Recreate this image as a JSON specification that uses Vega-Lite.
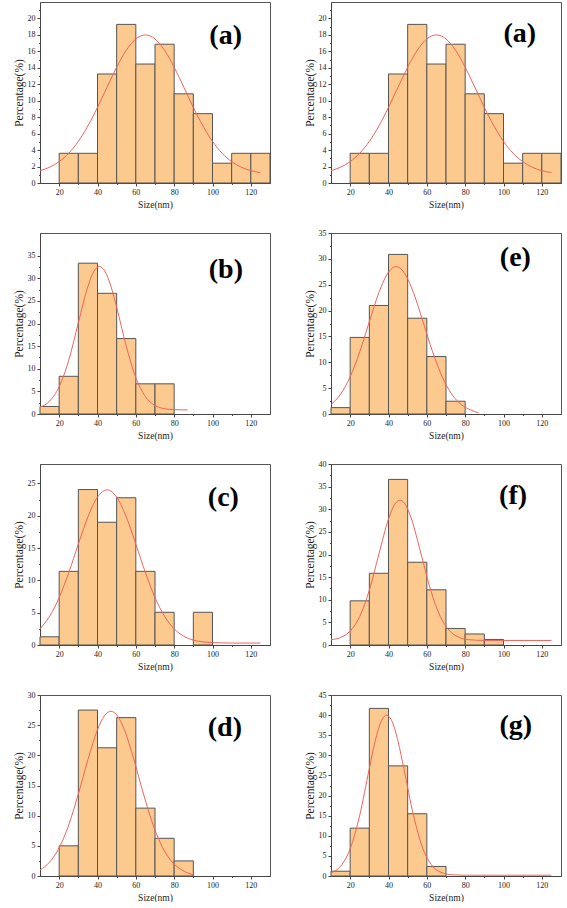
{
  "$schema": "https://vega.github.io/schema/vega-lite/v6.json",
  "background": "white",
  "padding": {"left": 12, "top": 1, "right": 0, "bottom": 0},
  "datasets": {
    "bars_a": [
      {"start": 20, "end": 30, "pct": 3.61}, {"start": 30, "end": 40, "pct": 3.61},
      {"start": 40, "end": 50, "pct": 13.25}, {"start": 50, "end": 60, "pct": 19.28},
      {"start": 60, "end": 70, "pct": 14.46}, {"start": 70, "end": 80, "pct": 16.87},
      {"start": 80, "end": 90, "pct": 10.84}, {"start": 90, "end": 100, "pct": 8.43},
      {"start": 100, "end": 110, "pct": 2.41}, {"start": 110, "end": 120, "pct": 3.61},
      {"start": 120, "end": 130, "pct": 3.61}
    ],
    "curve_a": [
      {"x": 10, "y": 1.5}, {"x": 15, "y": 1.92}, {"x": 20, "y": 2.6}, {"x": 25, "y": 3.62},
      {"x": 30, "y": 5.06}, {"x": 35, "y": 6.94}, {"x": 40, "y": 9.19}, {"x": 45, "y": 11.66},
      {"x": 50, "y": 14.07}, {"x": 55, "y": 16.13}, {"x": 60, "y": 17.51}, {"x": 65, "y": 18.0},
      {"x": 70, "y": 17.51}, {"x": 75, "y": 16.13}, {"x": 80, "y": 14.07}, {"x": 85, "y": 11.66},
      {"x": 90, "y": 9.19}, {"x": 95, "y": 6.94}, {"x": 100, "y": 5.06}, {"x": 105, "y": 3.62},
      {"x": 110, "y": 2.6}, {"x": 115, "y": 1.92}, {"x": 120, "y": 1.5}, {"x": 125, "y": 1.26}
    ],
    "bars_b": [
      {"start": 10, "end": 20, "pct": 1.67}, {"start": 20, "end": 30, "pct": 8.33},
      {"start": 30, "end": 40, "pct": 33.33}, {"start": 40, "end": 50, "pct": 26.67},
      {"start": 50, "end": 60, "pct": 16.67}, {"start": 60, "end": 70, "pct": 6.67},
      {"start": 70, "end": 80, "pct": 6.67}
    ],
    "curve_b": [
      {"x": 10, "y": 1.5}, {"x": 15, "y": 2.84}, {"x": 20, "y": 6.03}, {"x": 25, "y": 11.9},
      {"x": 30, "y": 20.13}, {"x": 35, "y": 28.22}, {"x": 38, "y": 31.44}, {"x": 41, "y": 32.6},
      {"x": 44, "y": 31.44}, {"x": 47, "y": 28.22}, {"x": 50, "y": 23.59}, {"x": 55, "y": 15.0},
      {"x": 60, "y": 8.03}, {"x": 65, "y": 3.84}, {"x": 70, "y": 1.88}, {"x": 75, "y": 1.17},
      {"x": 80, "y": 0.96}, {"x": 87, "y": 0.9}
    ],
    "bars_c": [
      {"start": 10, "end": 20, "pct": 1.27}, {"start": 20, "end": 30, "pct": 11.39},
      {"start": 30, "end": 40, "pct": 24.05}, {"start": 40, "end": 50, "pct": 18.99},
      {"start": 50, "end": 60, "pct": 22.78}, {"start": 60, "end": 70, "pct": 11.39},
      {"start": 70, "end": 80, "pct": 5.06}, {"start": 90, "end": 100, "pct": 5.06}
    ],
    "curve_c": [
      {"x": 10, "y": 2.5}, {"x": 15, "y": 4.43}, {"x": 20, "y": 7.34}, {"x": 25, "y": 11.2},
      {"x": 30, "y": 15.61}, {"x": 35, "y": 19.82}, {"x": 40, "y": 22.88}, {"x": 45, "y": 24.0},
      {"x": 50, "y": 22.88}, {"x": 55, "y": 19.82}, {"x": 60, "y": 15.61}, {"x": 65, "y": 11.2},
      {"x": 70, "y": 7.34}, {"x": 75, "y": 4.43}, {"x": 80, "y": 2.5}, {"x": 85, "y": 1.36},
      {"x": 90, "y": 0.76}, {"x": 95, "y": 0.49}, {"x": 100, "y": 0.37}, {"x": 110, "y": 0.3},
      {"x": 125, "y": 0.3}
    ],
    "bars_d": [
      {"start": 20, "end": 30, "pct": 5.0}, {"start": 30, "end": 40, "pct": 27.5},
      {"start": 40, "end": 50, "pct": 21.25}, {"start": 50, "end": 60, "pct": 26.25},
      {"start": 60, "end": 70, "pct": 11.25}, {"start": 70, "end": 80, "pct": 6.25},
      {"start": 80, "end": 90, "pct": 2.5}
    ],
    "curve_d": [
      {"x": 10, "y": 1.0}, {"x": 15, "y": 2.3}, {"x": 20, "y": 4.69}, {"x": 25, "y": 8.48},
      {"x": 30, "y": 13.58}, {"x": 35, "y": 19.28}, {"x": 40, "y": 24.25}, {"x": 43.5, "y": 26.5},
      {"x": 47, "y": 27.3}, {"x": 50.5, "y": 26.5}, {"x": 54, "y": 24.25}, {"x": 59, "y": 19.28},
      {"x": 64, "y": 13.58}, {"x": 69, "y": 8.48}, {"x": 74, "y": 4.69}, {"x": 79, "y": 2.3},
      {"x": 84, "y": 1.0}, {"x": 90, "y": 0.2}
    ],
    "bars_e": [
      {"start": 10, "end": 20, "pct": 1.23}, {"start": 20, "end": 30, "pct": 14.81},
      {"start": 30, "end": 40, "pct": 20.99}, {"start": 40, "end": 50, "pct": 30.86},
      {"start": 50, "end": 60, "pct": 18.52}, {"start": 60, "end": 70, "pct": 11.11},
      {"start": 70, "end": 80, "pct": 2.47}
    ],
    "curve_e": [
      {"x": 10, "y": 1.81}, {"x": 15, "y": 3.83}, {"x": 20, "y": 7.21}, {"x": 25, "y": 12.04},
      {"x": 30, "y": 17.85}, {"x": 35, "y": 23.49}, {"x": 40, "y": 27.43}, {"x": 44, "y": 28.5},
      {"x": 48, "y": 27.43}, {"x": 53, "y": 23.49}, {"x": 58, "y": 17.85}, {"x": 63, "y": 12.04},
      {"x": 68, "y": 7.21}, {"x": 73, "y": 3.83}, {"x": 78, "y": 1.81}, {"x": 83, "y": 0.76},
      {"x": 87, "y": 0.2}
    ],
    "bars_f": [
      {"start": 20, "end": 30, "pct": 9.76}, {"start": 30, "end": 40, "pct": 15.85},
      {"start": 40, "end": 50, "pct": 36.59}, {"start": 50, "end": 60, "pct": 18.29},
      {"start": 60, "end": 70, "pct": 12.2}, {"start": 70, "end": 80, "pct": 3.66},
      {"start": 80, "end": 90, "pct": 2.44}, {"start": 90, "end": 100, "pct": 1.22}
    ],
    "curve_f": [
      {"x": 10, "y": 1.17}, {"x": 15, "y": 1.66}, {"x": 20, "y": 3.08}, {"x": 25, "y": 6.31},
      {"x": 30, "y": 12.13}, {"x": 35, "y": 20.1}, {"x": 40, "y": 27.84}, {"x": 43, "y": 30.9},
      {"x": 46, "y": 32.0}, {"x": 49, "y": 30.9}, {"x": 52, "y": 27.84}, {"x": 57, "y": 20.1},
      {"x": 62, "y": 12.13}, {"x": 67, "y": 6.31}, {"x": 72, "y": 3.08}, {"x": 77, "y": 1.66},
      {"x": 82, "y": 1.17}, {"x": 90, "y": 1.01}, {"x": 100, "y": 1.0}, {"x": 125, "y": 1.0}
    ],
    "bars_g": [
      {"start": 10, "end": 20, "pct": 1.19}, {"start": 20, "end": 30, "pct": 11.9},
      {"start": 30, "end": 40, "pct": 41.67}, {"start": 40, "end": 50, "pct": 27.38},
      {"start": 50, "end": 60, "pct": 15.48}, {"start": 60, "end": 70, "pct": 2.38}
    ],
    "curve_g": [
      {"x": 10, "y": 0.8}, {"x": 15, "y": 2.43}, {"x": 20, "y": 6.75}, {"x": 25, "y": 15.14},
      {"x": 30, "y": 26.75}, {"x": 33, "y": 33.44}, {"x": 36, "y": 38.25}, {"x": 39, "y": 40.0},
      {"x": 42, "y": 38.25}, {"x": 45, "y": 33.44}, {"x": 48, "y": 26.75}, {"x": 53, "y": 15.14},
      {"x": 58, "y": 6.75}, {"x": 63, "y": 2.43}, {"x": 68, "y": 0.8}, {"x": 73, "y": 0.32},
      {"x": 80, "y": 0.2}, {"x": 125, "y": 0.2}
    ]
  },
  "columns": 2,
  "spacing": {"row": 19, "column": 32},
  "concat": [
    {
      "width": 230, "height": 181,
      "layer": [
        {"data": {"name": "bars_a"}, "mark": {"type": "bar", "fill": "#FCC98F", "stroke": "#555", "strokeWidth": 1},
         "encoding": {
           "x": {"field": "start", "type": "quantitative", "scale": {"domain": [10, 130]}, "axis": {"title": "Size(nm)", "format": "d", "tickCount": 100, "values": [20, 30, 40, 50, 60, 70, 80, 90, 100, 110, 120], "labelExpr": "datum.value % 20 === 0 ? datum.label : ''", "tickSize": {"condition": {"test": "datum.value % 20 === 0", "value": 3}, "value": 1.5}}},
           "x2": {"field": "end"},
           "y": {"field": "pct", "type": "quantitative", "scale": {"domain": [0, 21]}, "axis": {"title": "Percentage(%)", "format": "d", "tickCount": 100, "values": [0, 1, 2, 3, 4, 5, 6, 7, 8, 9, 10, 11, 12, 13, 14, 15, 16, 17, 18, 19, 20, 21], "labelExpr": "datum.value % 2 === 0 ? datum.label : ''", "tickSize": {"condition": {"test": "datum.value % 2 === 0", "value": 3}, "value": 1.5}}},
           "y2": {"datum": 0}
         }},
        {"data": {"name": "curve_a"}, "mark": {"type": "line", "color": "#F0645A", "strokeWidth": 1, "interpolate": "monotone"},
         "encoding": {"x": {"field": "x", "type": "quantitative"}, "y": {"field": "y", "type": "quantitative"}}},
        {"data": {"values": [{}]}, "mark": {"type": "text", "font": "Liberation Serif", "fontSize": 28, "fontWeight": "bold", "color": "black", "align": "right", "baseline": "middle"},
         "encoding": {"text": {"datum": "(a)"}, "x": {"datum": 115.4}, "y": {"datum": 17.86}}}
      ]
    },
    {
      "width": 230, "height": 181,
      "layer": [
        {"data": {"name": "bars_a"}, "mark": {"type": "bar", "fill": "#FCC98F", "stroke": "#555", "strokeWidth": 1},
         "encoding": {
           "x": {"field": "start", "type": "quantitative", "scale": {"domain": [10, 130]}, "axis": {"title": "Size(nm)", "format": "d", "tickCount": 100, "values": [20, 30, 40, 50, 60, 70, 80, 90, 100, 110, 120], "labelExpr": "datum.value % 20 === 0 ? datum.label : ''", "tickSize": {"condition": {"test": "datum.value % 20 === 0", "value": 3}, "value": 1.5}}},
           "x2": {"field": "end"},
           "y": {"field": "pct", "type": "quantitative", "scale": {"domain": [0, 21]}, "axis": {"title": "Percentage(%)", "format": "d", "tickCount": 100, "values": [0, 1, 2, 3, 4, 5, 6, 7, 8, 9, 10, 11, 12, 13, 14, 15, 16, 17, 18, 19, 20, 21], "labelExpr": "datum.value % 2 === 0 ? datum.label : ''", "tickSize": {"condition": {"test": "datum.value % 2 === 0", "value": 3}, "value": 1.5}}},
           "y2": {"datum": 0}
         }},
        {"data": {"name": "curve_a"}, "mark": {"type": "line", "color": "#F0645A", "strokeWidth": 1, "interpolate": "monotone"},
         "encoding": {"x": {"field": "x", "type": "quantitative"}, "y": {"field": "y", "type": "quantitative"}}},
        {"data": {"values": [{}]}, "mark": {"type": "text", "font": "Liberation Serif", "fontSize": 28, "fontWeight": "bold", "color": "black", "align": "right", "baseline": "middle"},
         "encoding": {"text": {"datum": "(a)"}, "x": {"datum": 117}, "y": {"datum": 18.13}}}
      ]
    },
    {
      "width": 230, "height": 181,
      "layer": [
        {"data": {"name": "bars_b"}, "mark": {"type": "bar", "fill": "#FCC98F", "stroke": "#555", "strokeWidth": 1},
         "encoding": {
           "x": {"field": "start", "type": "quantitative", "scale": {"domain": [10, 130]}, "axis": {"title": "Size(nm)", "format": "d", "tickCount": 100, "values": [20, 30, 40, 50, 60, 70, 80, 90, 100, 110, 120], "labelExpr": "datum.value % 20 === 0 ? datum.label : ''", "tickSize": {"condition": {"test": "datum.value % 20 === 0", "value": 3}, "value": 1.5}}},
           "x2": {"field": "end"},
           "y": {"field": "pct", "type": "quantitative", "scale": {"domain": [0, 37.4]}, "axis": {"title": "Percentage(%)", "format": "d", "tickCount": 100, "values": [0, 2.5, 5, 7.5, 10, 12.5, 15, 17.5, 20, 22.5, 25, 27.5, 30, 32.5, 35], "labelExpr": "datum.value % 5 === 0 ? datum.label : ''", "tickSize": {"condition": {"test": "datum.value % 5 === 0", "value": 3}, "value": 1.5}}},
           "y2": {"datum": 0}
         }},
        {"data": {"name": "curve_b"}, "mark": {"type": "line", "color": "#F0645A", "strokeWidth": 1, "interpolate": "monotone"},
         "encoding": {"x": {"field": "x", "type": "quantitative"}, "y": {"field": "y", "type": "quantitative"}}},
        {"data": {"values": [{}]}, "mark": {"type": "text", "font": "Liberation Serif", "fontSize": 28, "fontWeight": "bold", "color": "black", "align": "right", "baseline": "middle"},
         "encoding": {"text": {"datum": "(b)"}, "x": {"datum": 115.9}, "y": {"datum": 31.73}}}
      ]
    },
    {
      "width": 230, "height": 181,
      "layer": [
        {"data": {"name": "bars_e"}, "mark": {"type": "bar", "fill": "#FCC98F", "stroke": "#555", "strokeWidth": 1},
         "encoding": {
           "x": {"field": "start", "type": "quantitative", "scale": {"domain": [10, 130]}, "axis": {"title": "Size(nm)", "format": "d", "tickCount": 100, "values": [20, 30, 40, 50, 60, 70, 80, 90, 100, 110, 120], "labelExpr": "datum.value % 20 === 0 ? datum.label : ''", "tickSize": {"condition": {"test": "datum.value % 20 === 0", "value": 3}, "value": 1.5}}},
           "x2": {"field": "end"},
           "y": {"field": "pct", "type": "quantitative", "scale": {"domain": [0, 35]}, "axis": {"title": "Percentage(%)", "format": "d", "tickCount": 100, "values": [0, 2.5, 5, 7.5, 10, 12.5, 15, 17.5, 20, 22.5, 25, 27.5, 30, 32.5, 35], "labelExpr": "datum.value % 5 === 0 ? datum.label : ''", "tickSize": {"condition": {"test": "datum.value % 5 === 0", "value": 3}, "value": 1.5}}},
           "y2": {"datum": 0}
         }},
        {"data": {"name": "curve_e"}, "mark": {"type": "line", "color": "#F0645A", "strokeWidth": 1, "interpolate": "monotone"},
         "encoding": {"x": {"field": "x", "type": "quantitative"}, "y": {"field": "y", "type": "quantitative"}}},
        {"data": {"values": [{}]}, "mark": {"type": "text", "font": "Liberation Serif", "fontSize": 28, "fontWeight": "bold", "color": "black", "align": "right", "baseline": "middle"},
         "encoding": {"text": {"datum": "(e)"}, "x": {"datum": 114.3}, "y": {"datum": 30.07}}}
      ]
    },
    {
      "width": 230, "height": 181,
      "layer": [
        {"data": {"name": "bars_c"}, "mark": {"type": "bar", "fill": "#FCC98F", "stroke": "#555", "strokeWidth": 1},
         "encoding": {
           "x": {"field": "start", "type": "quantitative", "scale": {"domain": [10, 130]}, "axis": {"title": "Size(nm)", "format": "d", "tickCount": 100, "values": [20, 30, 40, 50, 60, 70, 80, 90, 100, 110, 120], "labelExpr": "datum.value % 20 === 0 ? datum.label : ''", "tickSize": {"condition": {"test": "datum.value % 20 === 0", "value": 3}, "value": 1.5}}},
           "x2": {"field": "end"},
           "y": {"field": "pct", "type": "quantitative", "scale": {"domain": [0, 27.3]}, "axis": {"title": "Percentage(%)", "format": "d", "tickCount": 100, "values": [0, 2.5, 5, 7.5, 10, 12.5, 15, 17.5, 20, 22.5, 25], "labelExpr": "datum.value % 5 === 0 ? datum.label : ''", "tickSize": {"condition": {"test": "datum.value % 5 === 0", "value": 3}, "value": 1.5}}},
           "y2": {"datum": 0}
         }},
        {"data": {"name": "curve_c"}, "mark": {"type": "line", "color": "#F0645A", "strokeWidth": 1, "interpolate": "monotone"},
         "encoding": {"x": {"field": "x", "type": "quantitative"}, "y": {"field": "y", "type": "quantitative"}}},
        {"data": {"values": [{}]}, "mark": {"type": "text", "font": "Liberation Serif", "fontSize": 28, "fontWeight": "bold", "color": "black", "align": "right", "baseline": "middle"},
         "encoding": {"text": {"datum": "(c)"}, "x": {"datum": 113.8}, "y": {"datum": 22.7}}}
      ]
    },
    {
      "width": 230, "height": 181,
      "layer": [
        {"data": {"name": "bars_f"}, "mark": {"type": "bar", "fill": "#FCC98F", "stroke": "#555", "strokeWidth": 1},
         "encoding": {
           "x": {"field": "start", "type": "quantitative", "scale": {"domain": [10, 130]}, "axis": {"title": "Size(nm)", "format": "d", "tickCount": 100, "values": [20, 30, 40, 50, 60, 70, 80, 90, 100, 110, 120], "labelExpr": "datum.value % 20 === 0 ? datum.label : ''", "tickSize": {"condition": {"test": "datum.value % 20 === 0", "value": 3}, "value": 1.5}}},
           "x2": {"field": "end"},
           "y": {"field": "pct", "type": "quantitative", "scale": {"domain": [0, 40]}, "axis": {"title": "Percentage(%)", "format": "d", "tickCount": 100, "values": [0, 2.5, 5, 7.5, 10, 12.5, 15, 17.5, 20, 22.5, 25, 27.5, 30, 32.5, 35, 37.5, 40], "labelExpr": "datum.value % 5 === 0 ? datum.label : ''", "tickSize": {"condition": {"test": "datum.value % 5 === 0", "value": 3}, "value": 1.5}}},
           "y2": {"datum": 0}
         }},
        {"data": {"name": "curve_f"}, "mark": {"type": "line", "color": "#F0645A", "strokeWidth": 1, "interpolate": "monotone"},
         "encoding": {"x": {"field": "x", "type": "quantitative"}, "y": {"field": "y", "type": "quantitative"}}},
        {"data": {"values": [{}]}, "mark": {"type": "text", "font": "Liberation Serif", "fontSize": 28, "fontWeight": "bold", "color": "black", "align": "right", "baseline": "middle"},
         "encoding": {"text": {"datum": "(f)"}, "x": {"datum": 112.3}, "y": {"datum": 33.03}}}
      ]
    },
    {
      "width": 230, "height": 181,
      "layer": [
        {"data": {"name": "bars_d"}, "mark": {"type": "bar", "fill": "#FCC98F", "stroke": "#555", "strokeWidth": 1},
         "encoding": {
           "x": {"field": "start", "type": "quantitative", "scale": {"domain": [10, 130]}, "axis": {"title": "Size(nm)", "format": "d", "tickCount": 100, "values": [20, 30, 40, 50, 60, 70, 80, 90, 100, 110, 120], "labelExpr": "datum.value % 20 === 0 ? datum.label : ''", "tickSize": {"condition": {"test": "datum.value % 20 === 0", "value": 3}, "value": 1.5}}},
           "x2": {"field": "end"},
           "y": {"field": "pct", "type": "quantitative", "scale": {"domain": [0, 30]}, "axis": {"title": "Percentage(%)", "format": "d", "tickCount": 100, "values": [0, 2.5, 5, 7.5, 10, 12.5, 15, 17.5, 20, 22.5, 25, 27.5, 30], "labelExpr": "datum.value % 5 === 0 ? datum.label : ''", "tickSize": {"condition": {"test": "datum.value % 5 === 0", "value": 3}, "value": 1.5}}},
           "y2": {"datum": 0}
         }},
        {"data": {"name": "curve_d"}, "mark": {"type": "line", "color": "#F0645A", "strokeWidth": 1, "interpolate": "monotone"},
         "encoding": {"x": {"field": "x", "type": "quantitative"}, "y": {"field": "y", "type": "quantitative"}}},
        {"data": {"values": [{}]}, "mark": {"type": "text", "font": "Liberation Serif", "fontSize": 28, "fontWeight": "bold", "color": "black", "align": "right", "baseline": "middle"},
         "encoding": {"text": {"datum": "(d)"}, "x": {"datum": 115.4}, "y": {"datum": 24.61}}}
      ]
    },
    {
      "width": 230, "height": 181,
      "layer": [
        {"data": {"name": "bars_g"}, "mark": {"type": "bar", "fill": "#FCC98F", "stroke": "#555", "strokeWidth": 1},
         "encoding": {
           "x": {"field": "start", "type": "quantitative", "scale": {"domain": [10, 130]}, "axis": {"title": "Size(nm)", "format": "d", "tickCount": 100, "values": [20, 30, 40, 50, 60, 70, 80, 90, 100, 110, 120], "labelExpr": "datum.value % 20 === 0 ? datum.label : ''", "tickSize": {"condition": {"test": "datum.value % 20 === 0", "value": 3}, "value": 1.5}}},
           "x2": {"field": "end"},
           "y": {"field": "pct", "type": "quantitative", "scale": {"domain": [0, 45]}, "axis": {"title": "Percentage(%)", "format": "d", "tickCount": 100, "values": [0, 2.5, 5, 7.5, 10, 12.5, 15, 17.5, 20, 22.5, 25, 27.5, 30, 32.5, 35, 37.5, 40, 42.5, 45], "labelExpr": "datum.value % 5 === 0 ? datum.label : ''", "tickSize": {"condition": {"test": "datum.value % 5 === 0", "value": 3}, "value": 1.5}}},
           "y2": {"datum": 0}
         }},
        {"data": {"name": "curve_g"}, "mark": {"type": "line", "color": "#F0645A", "strokeWidth": 1, "interpolate": "monotone"},
         "encoding": {"x": {"field": "x", "type": "quantitative"}, "y": {"field": "y", "type": "quantitative"}}},
        {"data": {"values": [{}]}, "mark": {"type": "text", "font": "Liberation Serif", "fontSize": 28, "fontWeight": "bold", "color": "black", "align": "right", "baseline": "middle"},
         "encoding": {"text": {"datum": "(g)"}, "x": {"datum": 114.9}, "y": {"datum": 37.3}}}
      ]
    }
  ],
  "config": {
    "view": {"stroke": "#555", "strokeWidth": 1},
    "axis": {
      "labelFont": "Liberation Serif", "titleFont": "Liberation Serif",
      "labelFontSize": 8, "titleFontSize": 9.5, "titleFontWeight": "normal",
      "labelColor": "#222", "titleColor": "#222", "domainColor": "#444", "tickColor": "#444",
      "grid": false, "labelPadding": 2, "labelOverlap": false, "labelFlush": false, "tickSize": 3
    },
    "axisY": {"titleFontSize": 11.5, "titlePadding": 3},
    "axisX": {"titlePadding": 3}
  }
}
